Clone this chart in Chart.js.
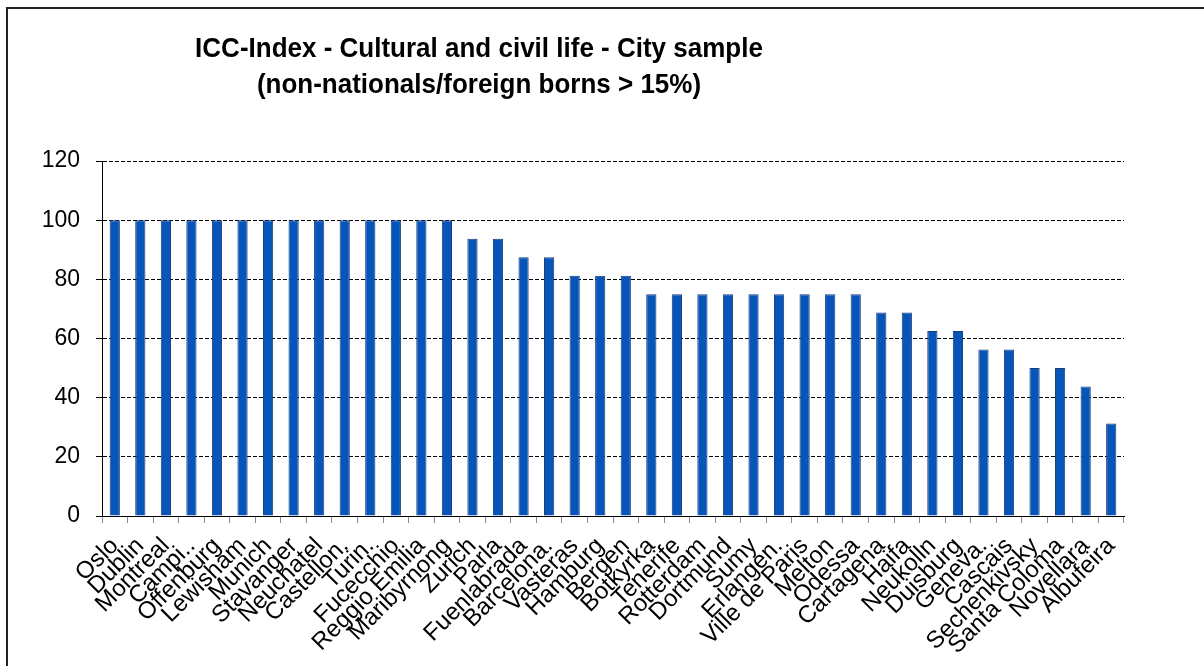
<!DOCTYPE html>
<html>
<head>
<meta charset="utf-8">
<script src="https://cdn.jsdelivr.net/npm/chart.js@4/dist/chart.umd.min.js"></script>
<style>
  body { margin: 0; background: #fff; }
  canvas { display: block; }
</style>
</head>
<body>
<canvas id="graph" width="1204" height="666"></canvas>
<script>
var cities = ["Oslo", "Dublin", "Montreal", "Campi..", "Offenburg", "Lewisham", "Munich", "Stavanger",
    "Neuchatel", "Castellon.", "Turin.", "Fucecchio", "Reggio Emilia", "Maribyrnong", "Zurich", "Parla",
    "Fuenlabrada", "Barcelona.", "Vasteras", "Hamburg", "Bergen", "Botkyrka", "Tenerife", "Rotterdam",
    "Dortmund", "Sumy", "Erlangen.", "Ville de Paris", "Melton", "Odessa", "Cartagena", "Haifa",
    "Neukolln", "Duisburg", "Geneva.", "Cascais", "Sechenkivsky", "Santa Coloma", "Novellara", "Albufeira"];
var scores = [100, 100, 100, 100, 100, 100, 100, 100, 100, 100, 100, 100, 100, 100,
    93.75, 93.75, 87.5, 87.5, 81.25, 81.25, 81.25,
    75, 75, 75, 75, 75, 75, 75, 75, 75,
    68.75, 68.75, 62.5, 62.5, 56.25, 56.25, 50, 50, 43.75, 31.25];
var titleLines = ["ICC-Index - Cultural and civil life - City sample", "(non-nationals/foreign borns > 15%)"];

// frame + title drawn straight on the canvas
var decor = {
    id: 'decor',
    beforeDraw: function (chart) {
        var ctx = chart.ctx;
        ctx.save();
        ctx.fillStyle = '#fff';
        ctx.fillRect(0, 0, chart.width, chart.height);
        ctx.strokeStyle = '#222';
        ctx.lineWidth = 2;
        ctx.strokeRect(7, 8, 1220, 700);
        ctx.fillStyle = '#000';
        ctx.textAlign = 'center';
        ctx.textBaseline = 'middle';
        ctx.font = "bold 26px 'Liberation Sans Narrow', 'Liberation Sans', Arial, sans-serif";
        // a bit taller than wide, like the original narrow face
        ctx.translate(479, 0);
        ctx.scale(1, 1.08);
        ctx.fillText(titleLines[0], 0, 46);
        ctx.fillText(titleLines[1], 0, 79);
        ctx.restore();
    }
};

var context = document.querySelector('#graph').getContext('2d');
var myChart = new Chart(context, {
    type: 'bar',
    data: {
        labels: cities,
        datasets: [{
            data: scores,
            backgroundColor: '#0855BA',
            borderColor: '#163E7A',
            borderWidth: 1,
            barPercentage: 0.4,
            categoryPercentage: 1
        }]
    },
    options: {
        responsive: false,
        animation: false,
        layout: { padding: { top: 161, right: 80, left: 0, bottom: 0 } },
        plugins: {
            legend: { display: false },
            tooltip: { enabled: false }
        },
        scales: {
            x: {
                afterFit: function (scale) { scale.height = 150; },
                grid: { drawOnChartArea: false, tickLength: 7, color: '#888', offset: true },
                border: { display: true, color: '#000', width: 1 },
                ticks: {
                    autoSkip: false,
                    maxRotation: 45,
                    minRotation: 45,
                    padding: 9,
                    color: '#000',
                    font: { family: "'Liberation Sans', Arial, sans-serif", size: 24 }
                }
            },
            y: {
                min: 0,
                max: 120,
                afterFit: function (scale) { scale.width = 102; },
                grid: { color: '#000', lineWidth: 1, tickLength: 6, tickBorderDash: [] },
                border: { display: true, color: '#000', width: 1, dash: [4, 2] },
                ticks: {
                    stepSize: 20,
                    padding: 16,
                    color: '#000',
                    font: { family: "'Liberation Sans', Arial, sans-serif", size: 23 }
                }
            }
        }
    },
    plugins: [decor]
});
</script>
</body>
</html>
